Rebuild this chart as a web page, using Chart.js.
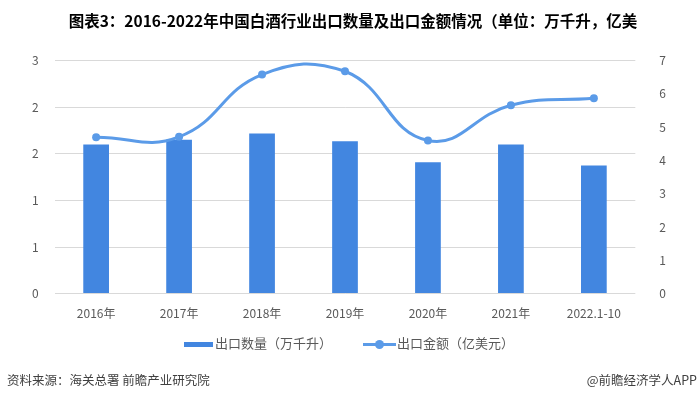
<!DOCTYPE html>
<html>
<head>
<meta charset="utf-8">
<script src="https://cdn.jsdelivr.net/npm/chart.js@4"></script>
<style>
  body { margin: 0; background: #fff; }
  #wrap { position: relative; width: 700px; height: 398px; font-family: "Noto Sans CJK SC", sans-serif; }
  #legend { position: absolute; top: 333px; left: 0; width: 700px; height: 20px; color: #595959; font-size: 13px; }
  .item { position: absolute; top: 0; line-height: 20px; white-space: nowrap; }
  .sw { display: inline-block; vertical-align: middle; position: relative; }
  .foot { position: absolute; top: 371px; font-size: 12.5px; color: #404040; line-height: 18px; white-space: nowrap; }
</style>
</head>
<body>
<div id="wrap">
  <canvas id="exportChart"></canvas>
  <div id="legend"></div>
  <div class="foot" style="left:7px;">资料来源：海关总署 前瞻产业研究院</div>
  <div class="foot" style="right:3px;">@前瞻经济学人APP</div>
</div>
<script>
const years = ["2016年","2017年","2018年","2019年","2020年","2021年","2022.1-10"];
const volume = [1.92, 1.98, 2.06, 1.96, 1.69, 1.92, 1.65];   // 万千升
const value = [4.70, 4.71, 6.58, 6.68, 4.60, 5.66, 5.87];    // 亿美元
const volumeLabel = "出口数量（万千升）";
const valueLabel = "出口金额（亿美元）";

const barColor = "#4286E0";
const lineColor = "#5B9BE8";
const tickFont = { family: '"Noto Sans CJK SC", sans-serif', size: 12 };

const ctx = document.getElementById('exportChart').getContext('2d');

new Chart(ctx, {
    data: {
        labels: years,
        datasets: [{
            type: 'line',
            label: valueLabel,
            data: value,
            yAxisID: 'y1',
            borderColor: lineColor,
            backgroundColor: lineColor,
            borderWidth: 3,
            tension: 0.45,
            pointRadius: 4,
            pointBackgroundColor: lineColor,
            pointBorderWidth: 0,
            order: 0
        }, {
            type: 'bar',
            label: volumeLabel,
            data: volume,
            yAxisID: 'y',
            backgroundColor: barColor,
            categoryPercentage: 1,
            barPercentage: 0.31,
            order: 1
        }]
    },
    options: {
        responsive: true,
        maintainAspectRatio: false,
        animation: false,
        layout: { padding: { left: 16, right: 10, top: 0, bottom: 72 } },
        plugins: {
            legend: { display: false },
            tooltip: { enabled: false },
            title: {
                display: true,
                text: "图表3：2016-2022年中国白酒行业出口数量及出口金额情况（单位：万千升，亿美",
                color: '#000',
                font: { family: '"Noto Sans CJK SC", sans-serif', size: 15.5, weight: 'bold' },
                padding: { top: 12, bottom: 30 }
            }
        },
        scales: {
            x: {
                grid: { display: false },
                border: { display: false },
                ticks: { color: '#595959', font: tickFont, padding: 5, maxRotation: 0 }
            },
            y: {
                position: 'left',
                min: 0, max: 3,
                ticks: { stepSize: 0.6, color: '#595959', font: tickFont, padding: 16,
                         callback: v => Math.round(v) },
                grid: { color: '#D9D9D9', drawTicks: false },
                border: { display: false }
            },
            y1: {
                position: 'right',
                min: 0, max: 7,
                ticks: { stepSize: 1, color: '#595959', font: tickFont, padding: 24 },
                grid: { display: false, drawTicks: false },
                border: { display: false }
            }
        }
    }
});

// legend in html
const legend = document.getElementById('legend');
legend.innerHTML =
    '<div class="item" style="left:184px;"><span class="sw" style="width:29px;height:5px;background:' + barColor + ';margin-right:2px;"></span>' + volumeLabel + '</div>' +
    '<div class="item" style="left:363px;"><span class="sw" style="width:33px;height:3px;background:' + lineColor + ';margin-right:1px;">' +
    '<span style="position:absolute;left:12px;top:-3px;width:9px;height:9px;border-radius:50%;background:' + lineColor + ';"></span></span>' + valueLabel + '</div>';
</script>
</body>
</html>
